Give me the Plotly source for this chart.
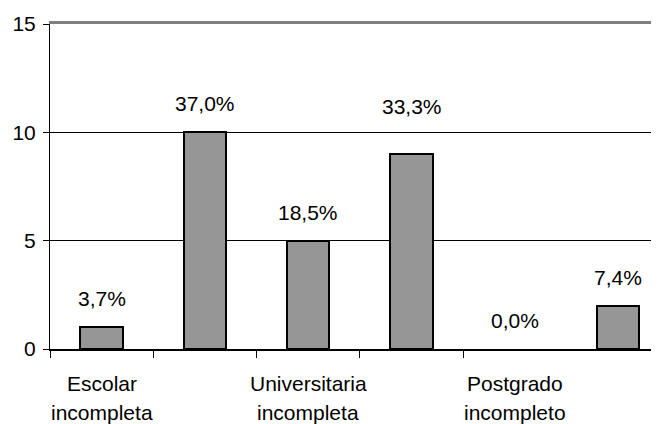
import plotly.graph_objects as go

# Data
positions = [0, 1, 2, 3, 4, 5]
values = [1, 10, 5, 9, 0, 2]
pct_labels = ["3,7%", "37,0%", "18,5%", "33,3%", "0,0%", "7,4%"]
cat_line1 = ["Escolar", "", "Universitaria", "", "Postgrado", ""]
cat_line2 = ["incompleta", "", "incompleta", "", "incompleto", ""]
y_ticks = [0, 5, 10, 15]

FONT = "Liberation Sans, Arial, sans-serif"
FS = 21
# extra upward pixel nudge for labels moved by hand in the original
LABEL_NUDGE = {3: 19}

fig = go.Figure()
fig.add_trace(go.Bar(
    x=positions, y=values, width=0.41,
    marker=dict(color="#969696",
                line=dict(color="black", width=[2 if v > 0 else 0 for v in values])),
    hoverinfo="skip",
))
# invisible trace to activate top axis (plot border line)
fig.add_trace(go.Scatter(x=[None], y=[None], xaxis="x2", showlegend=False))

annotations = []
for i, (xp, v, t) in enumerate(zip(positions, values, pct_labels)):
    annotations.append(dict(x=xp, y=v, xref="x", yref="y", text=t, showarrow=False,
                            yanchor="bottom", yshift=15 + LABEL_NUDGE.get(i, 0),
                            font=dict(family=FONT, size=FS, color="black")))
for xp, l1, l2 in zip(positions, cat_line1, cat_line2):
    if l1:
        annotations.append(dict(x=xp, y=0, xref="x", yref="paper", text=l1, showarrow=False,
                                yanchor="middle", yshift=-34,
                                font=dict(family=FONT, size=FS, color="black")))
    if l2:
        annotations.append(dict(x=xp, y=0, xref="x", yref="paper", text=l2, showarrow=False,
                                yanchor="middle", yshift=-63,
                                font=dict(family=FONT, size=FS, color="black")))

xrange = [-0.5, 5.395]
fig.update_layout(
    width=651, height=416,
    margin=dict(l=42, r=0, t=16, b=75),
    paper_bgcolor="white", plot_bgcolor="white",
    showlegend=False,
    bargap=0,
    font=dict(family=FONT, size=FS, color="black"),
    xaxis=dict(range=xrange, tickvals=[p - 0.5 for p in positions[:-1]],
               showticklabels=False, ticks="outside", ticklen=7, tickcolor="black", tickwidth=1,
               showline=True, linecolor="black", linewidth=1.5, showgrid=False, zeroline=False),
    xaxis2=dict(range=xrange, overlaying="x", side="top", showline=True, linecolor="#808080",
                linewidth=2.5, showticklabels=False, ticks="", showgrid=False, zeroline=False),
    yaxis=dict(range=[0, 15], tickvals=y_ticks, ticks="outside", ticklen=6, tickcolor="black",
               showline=True, linecolor="black", linewidth=1, showgrid=True, gridcolor="black",
               gridwidth=1, zeroline=False, ticklabelstandoff=3,
               tickfont=dict(family=FONT, size=FS, color="black")),
    annotations=annotations,
)
fig.write_html("out.html")
